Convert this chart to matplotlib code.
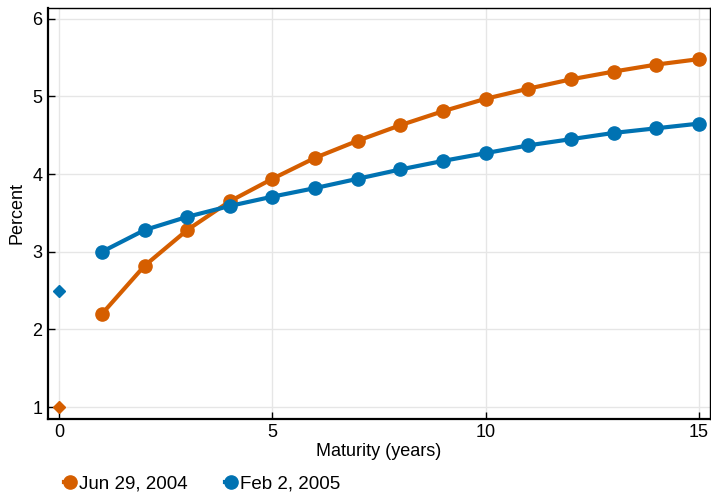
import matplotlib.pyplot as plt
from matplotlib.lines import Line2D

plt.rcParams['font.family'] = ['Liberation Sans', 'DejaVu Sans']

maturity = [1, 2, 3, 4, 5, 6, 7, 8, 9, 10, 11, 12, 13, 14, 15]
jun2004 = [2.20, 2.82, 3.28, 3.65, 3.94, 4.21, 4.43, 4.63, 4.81, 4.97, 5.10, 5.22, 5.32, 5.41, 5.48]
feb2005 = [3.00, 3.28, 3.45, 3.59, 3.71, 3.82, 3.94, 4.06, 4.17, 4.27, 4.37, 4.45, 4.53, 4.59, 4.65]
# fed funds at maturity 0
ff_jun2004 = 1.0
ff_feb2005 = 2.5

labels = ['Jun 29, 2004', 'Feb 2, 2005']
c_orange = '#D55E00'
c_blue = '#0072B2'

fig = plt.figure(figsize=(7.11, 4.93), dpi=100)
ax = fig.add_axes([0.0675, 0.151, 0.931, 0.833])

ax.plot(maturity, jun2004, color=c_orange, lw=3, marker='o', ms=9.5, zorder=3)
ax.plot(maturity, feb2005, color=c_blue, lw=3, marker='o', ms=9.5, zorder=3)
ax.plot([0], [ff_jun2004], color=c_orange, marker='D', ms=6.5, ls='none', zorder=3)
ax.plot([0], [ff_feb2005], color=c_blue, marker='D', ms=6.5, ls='none', zorder=3)

ax.set_xlim(-0.265, 15.26)
ax.set_ylim(0.853, 6.14)
ax.set_xticks([0, 5, 10, 15])
ax.set_yticks([1, 2, 3, 4, 5, 6])
ax.grid(True, color='#e6e6e6', lw=1)
ax.set_axisbelow(True)
ax.tick_params(direction='in', length=5, width=1, labelsize=13, pad=4)
for s in ax.spines.values():
    s.set_linewidth(1)
ax.spines['left'].set_linewidth(1.6)
ax.spines['bottom'].set_linewidth(1.6)

ax.set_xlabel('Maturity (years)', fontsize=13, labelpad=1)
ax.set_ylabel('Percent', fontsize=13, labelpad=5)

handles = [Line2D([], [], color=c, lw=3, marker='o', ms=9.5) for c in (c_orange, c_blue)]
fig.legend(handles, labels, loc='center left', bbox_to_anchor=(64 / 711, 1 - 484 / 493), ncol=2,
           frameon=False, fontsize=13.5, handlelength=0.6, handletextpad=0.2,
           columnspacing=2.0, borderpad=0, borderaxespad=0)

fig.savefig('out.png', dpi=100)
